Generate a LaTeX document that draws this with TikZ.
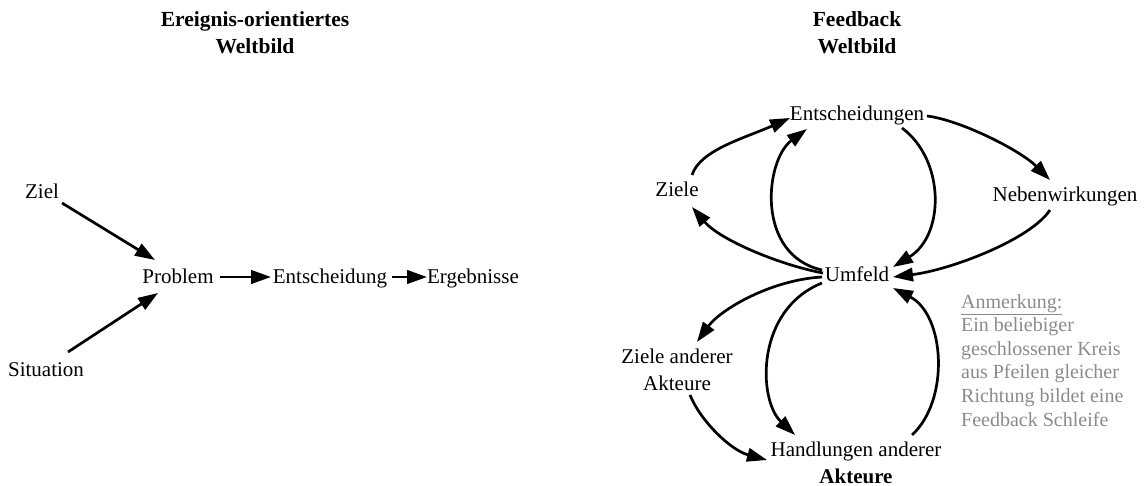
\documentclass[tikz,border=0pt]{standalone}
\usepackage{fontspec}
\setmainfont{Liberation Serif}
\usetikzlibrary{arrows.meta}
\definecolor{notegray}{HTML}{8A8A8A}
\begin{document}
\begin{tikzpicture}[x=1pt,y=-1pt,
  lbl/.style={font=\fontsize{21}{25}\selectfont, inner sep=0pt, text height=14pt, text depth=0pt, anchor=center},
  lbl2/.style={font=\fontsize{21}{26.5}\selectfont, inner sep=0pt, align=center, anchor=center},
  ttl/.style={font=\fontsize{21.5}{27}\selectfont\bfseries, inner sep=0pt, align=center, anchor=north},
  note/.style={font=\fontsize{20}{23.6}\selectfont, text=notegray, inner sep=0pt, align=left, anchor=north west},
  link/.style={line width=2.7pt, -{Triangle[length=20pt,width=13.5pt]}}
]
\path (0,0) rectangle (1146,486);

% ---- event-oriented view ----
\node[ttl] (t1) at (255,11) {Ereignis-orientiertes\\Weltbild};
\node[lbl] (ziel) at (42,192) {Ziel};
\node[lbl] (problem) at (178,277) {Problem};
\node[lbl] (entsch) at (330,277) {Entscheidung};
\node[lbl] (ergeb) at (473,277) {Ergebnisse};
\node[lbl] (situation) at (46,370) {Situation};

\draw[link] ([shift={(20,11)}]ziel.center) -- ([shift={(-23,-17)}]problem.center);
\draw[link] ([shift={(22,-18)}]situation.center) -- ([shift={(-20,16)}]problem.center);
\draw[link] ([shift={(42,0)}]problem.center) -- ([shift={(-59,0)}]entsch.center);
\draw[link] ([shift={(62,0)}]entsch.center) -- ([shift={(-46,0)}]ergeb.center);

% ---- feedback view ----
\node[ttl] (t2) at (857,11) {Feedback\\Weltbild};
\node[lbl] (ent) at (857,114) {Entscheidungen};
\node[lbl] (ziele) at (677,190) {Ziele};
\node[lbl] (neb) at (1065,195) {Nebenwirkungen};
\node[lbl] (umf) at (857,275) {Umfeld};
\node[lbl2] (za) at (677,370) {Ziele anderer\\Akteure};
\node[lbl2] (hand) at (856,463) {Handlungen anderer\\\textbf{Akteure}};

\node[note] (anm) at (961,294) {\underline{Anmerkung:}\\Ein beliebiger\\geschlossener Kreis\\aus Pfeilen gleicher\\Richtung bildet eine\\Feedback Schleife};

\draw[link] ([shift={(15,-15)}]ziele.center) .. controls +(8,-25) and +(-45,20) .. ([shift={(-67,4)}]ent.center);
\draw[link] ([shift={(-35,-5)}]umf.center) .. controls +(-67,-15) and +(-42,31) .. ([shift={(-50,15)}]ent.center);
\draw[link] ([shift={(45,14)}]ent.center) .. controls +(43,32) and +(52,-32) .. ([shift={(36,-8)}]umf.center);
\draw[link] ([shift={(70,2)}]ent.center) .. controls +(33,4) and +(-30,-30) .. ([shift={(-15,-15)}]neb.center);
\draw[link] ([shift={(-15,15)}]neb.center) .. controls +(-20,30) and +(57,-7) .. ([shift={(36,2)}]umf.center);
\draw[link] ([shift={(-34,-2)}]umf.center) .. controls +(-43,-8) and +(28,33) .. ([shift={(15,17)}]ziele.center);
\draw[link] ([shift={(-35,2)}]umf.center) .. controls +(-52,3) and +(23,-32) .. ([shift={(20,-28)}]za.center);
\draw[link] ([shift={(-35,8)}]umf.center) .. controls +(-67,27) and +(-37,-35) .. ([shift={(-61,-28)}]hand.center);
\draw[link] ([shift={(56,-28)}]hand.center) .. controls +(38,-35) and +(52,27) .. ([shift={(36,13)}]umf.center);
\draw[link] ([shift={(13,25)}]za.center) .. controls +(10,25) and +(-37,-10) .. ([shift={(-89,-3)}]hand.center);
\end{tikzpicture}
\end{document}
